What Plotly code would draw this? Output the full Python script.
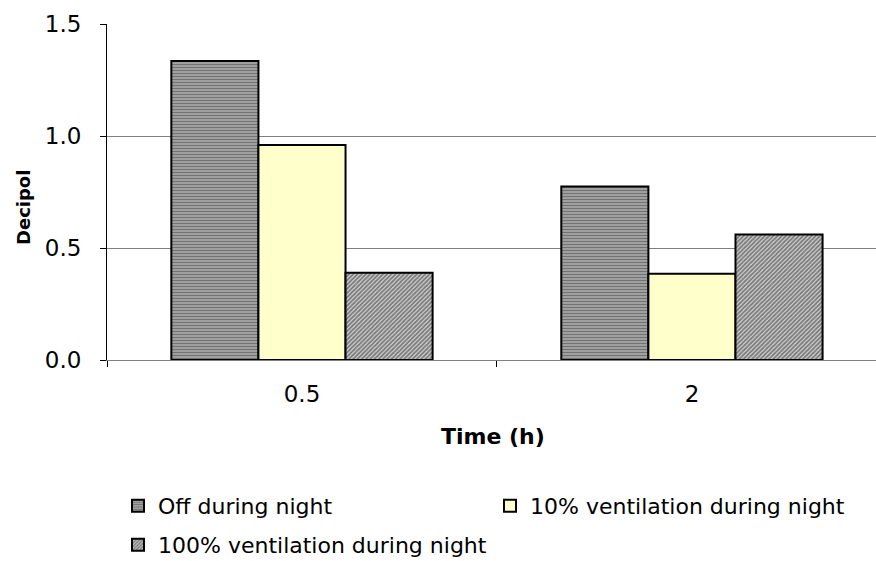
import plotly.graph_objects as go

# Decipol levels after ventilation was switched back on
times = ["0.5", "2"]
off_night = [1.335, 0.775]
vent10_night = [0.96, 0.385]
vent100_night = [0.39, 0.56]

series_names = ["Off during night", "10% ventilation during night", "100% ventilation during night"]
y_ticks = [0, 0.5, 1.0, 1.5]
y_ticklabels = ["0.0", "0.5", "1.0", "1.5"]

FONT = "DejaVu Sans, sans-serif"
W, H = 876, 561

fig = go.Figure()
fig.add_trace(go.Bar(
    x=times, y=off_night, name=series_names[0], legend="legend",
    marker=dict(color="#9a9a9a", line=dict(color="black", width=2),
                pattern=dict(shape="-", bgcolor="#a8a8a8", fgcolor="#3c3c3c", size=3, solidity=0.45)),
))
fig.add_trace(go.Bar(
    x=times, y=vent10_night, name=series_names[1], legend="legend2",
    marker=dict(color="#FFFFCC", line=dict(color="black", width=2)),
))
fig.add_trace(go.Bar(
    x=times, y=vent100_night, name=series_names[2], legend="legend3",
    marker=dict(color="white", line=dict(color="black", width=2),
                pattern=dict(shape="/", bgcolor="#d4d4d4", fgcolor="#1e1e1e", size=3, solidity=0.6)),
))


def legend_at(px_x, px_y):
    # one legend entry placed by its left edge and vertical centre, in pixels
    return dict(
        orientation="h", xref="container", yref="container",
        x=px_x / W, y=1 - px_y / H, xanchor="left", yanchor="middle",
        font=dict(family=FONT, size=22, color="black"),
        bgcolor="rgba(0,0,0,0)",
    )


fig.update_layout(
    width=W, height=H,
    margin=dict(l=107, r=0, t=24, b=201),
    paper_bgcolor="white", plot_bgcolor="white",
    barmode="group", bargap=0.33, bargroupgap=0,
    font=dict(family=FONT, size=22, color="black"),
    showlegend=True,
    legend=legend_at(118, 506),
    legend2=legend_at(490, 506),
    legend3=legend_at(118, 545),
    xaxis=dict(
        type="category", range=[-0.5, 1.472],
        showline=True, linecolor="#808080", linewidth=1,
        ticks="outside", tickson="boundaries", ticklen=6, tickcolor="black",
        showgrid=False, zeroline=False,
        tickfont=dict(family=FONT, size=23), ticklabelstandoff=13,
    ),
    yaxis=dict(
        range=[0, 1.5], tickvals=y_ticks, ticktext=y_ticklabels,
        showline=True, linecolor="black", linewidth=1,
        ticks="outside", ticklen=6, tickcolor="black",
        showgrid=True, gridcolor="#808080", gridwidth=1, zeroline=False,
        tickfont=dict(family=FONT, size=23), ticklabelstandoff=14,
    ),
    annotations=[
        dict(text="<b>Time (h)</b>", xref="paper", yref="paper",
             x=(493 - 107) / 769, y=(360 - 436) / 336, xanchor="center", yanchor="middle",
             showarrow=False, font=dict(family=FONT, size=22, color="black")),
        dict(text="<b>Decipol</b>", xref="paper", yref="paper", textangle=-90,
             x=(23 - 107) / 769, y=(360 - 208) / 336, xanchor="center", yanchor="middle",
             showarrow=False, font=dict(family=FONT, size=18, color="black")),
    ],
)

fig.write_html("out.html")
